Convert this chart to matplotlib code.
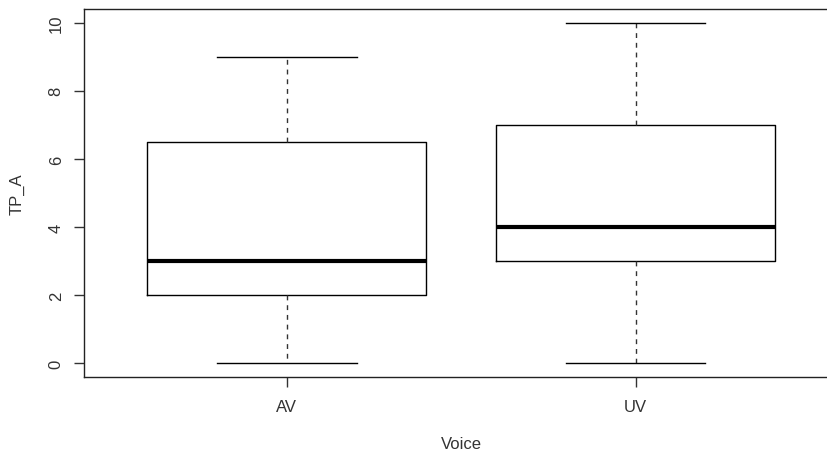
import matplotlib
matplotlib.use("Agg")
import matplotlib.pyplot as plt

categories = ["AV", "UV"]
mins = [0, 0]
q1s = [2, 3]
medians = [3, 4]
q3s = [6.5, 7]
maxs = [9, 10]
yticks = [0, 2, 4, 6, 8, 10]

plt.rcParams['font.family'] = ['Liberation Sans', 'DejaVu Sans']

W, H = 828, 456
fig = plt.figure(figsize=(W / 100, H / 100), dpi=100)
left, right, top, bottom = 84.5, 838, 10, 378
ax = fig.add_axes([left / W, 1 - bottom / H, (right - left) / W, (bottom - top) / H])

stats = []
for c, lo, a, m, b, hi in zip(categories, mins, q1s, medians, q3s, maxs):
    stats.append(dict(label=c, whislo=lo, q1=a, med=m, q3=b, whishi=hi, fliers=[]))

ax.bxp(stats, positions=[1, 2], widths=0.8, showfliers=False,
       boxprops=dict(color="black", linewidth=1.0),
       medianprops=dict(color="black", linewidth=3.0, solid_capstyle="butt"),
       whiskerprops=dict(color="#333333", linewidth=1.0, linestyle=(0, (3.5, 3.5))),
       capprops=dict(color="black", linewidth=1.0),
       capwidths=0.4)

ax.set_xlim(0.42, 2.58)
ax.set_ylim(-0.4, 10.4)
ax.set_yticks(yticks)
ax.set_yticklabels([str(t) for t in yticks], rotation=90, va="center")
ax.set_xticks([1, 2])
ax.set_xticklabels(categories)
ax.tick_params(axis="both", length=7, width=1, color="#333333", labelcolor="#333333", labelsize=12)
ax.tick_params(axis="y", pad=8)
ax.tick_params(axis="x", pad=9)
for s in ax.spines.values():
    s.set_color("#222222")
    s.set_linewidth(1.0)

ax.set_xlabel("Voice", fontsize=12, color="#333333", labelpad=16)
ax.set_ylabel("TP_A", fontsize=12, color="#333333", labelpad=17)

fig.savefig("out.png", dpi=100)
